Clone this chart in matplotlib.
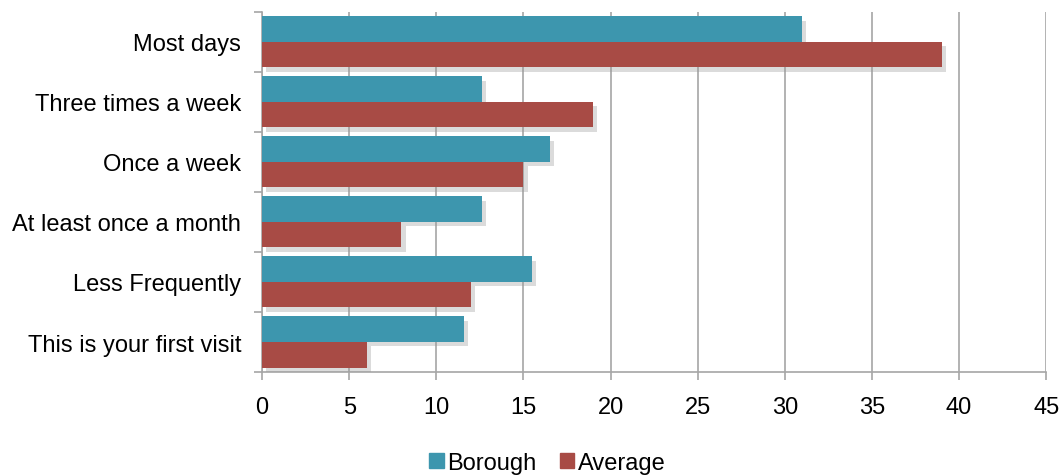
import matplotlib
matplotlib.use("Agg")
import matplotlib.pyplot as plt
import matplotlib.patheffects as pe
from matplotlib.patches import Patch
import numpy as np

plt.rcParams['font.family'] = ['Liberation Sans', 'DejaVu Sans']

categories = ["Most days", "Three times a week", "Once a week",
              "At least once a month", "Less Frequently", "This is your first visit"]
borough = [31.0, 12.6, 16.5, 12.6, 15.5, 11.6]
average = [39.0, 19.0, 15.0, 8.0, 12.0, 6.0]

col_b = "#3D96AE"
col_a = "#A84B45"
grid_col = "#A6A6A6"

fig = plt.figure(figsize=(10.61, 4.77), dpi=100)
ax = fig.add_axes([0.247, 0.218, 0.739, 0.755])

y = np.arange(len(categories))
h = 0.425
shadow = [pe.SimplePatchShadow(offset=(3, -3), shadow_rgbFace="#999999", alpha=0.35), pe.Normal()]
b1 = ax.barh(y - h/2, borough, height=h, color=col_b, zorder=3)
b2 = ax.barh(y + h/2, average, height=h, color=col_a, zorder=3)
for bar in list(b1) + list(b2):
    bar.set_path_effects(shadow)

ax.set_xlim(0, 45)
ax.set_ylim(len(categories) - 0.5, -0.5)
ax.set_xticks(np.arange(0, 46, 5))
ax.set_yticks(y)
ax.set_yticklabels(categories)
ax.set_yticks(np.arange(-0.5, len(categories), 1), minor=True)
ax.tick_params(axis='y', which='major', length=0, pad=15, labelsize=17)
ax.tick_params(axis='y', which='minor', length=6, color=grid_col, width=1.2)
ax.tick_params(axis='x', length=6, color=grid_col, width=1.2, labelsize=17, pad=11)

ax.grid(axis='x', color=grid_col, linewidth=1.2, zorder=0)
ax.set_axisbelow(True)
for s in ['top', 'right']:
    ax.spines[s].set_visible(False)
for s in ['left', 'bottom']:
    ax.spines[s].set_color(grid_col)
    ax.spines[s].set_linewidth(1.2)

handles = [Patch(color=col_b), Patch(color=col_a)]
fig.legend(handles=handles, labels=["Borough", "Average"], loc='lower center',
           bbox_to_anchor=(0.516, -0.04), ncol=2, frameon=False, fontsize=17,
           handlelength=0.6, handleheight=0.6, handletextpad=0.15, columnspacing=1.0)

fig.savefig("out.png", dpi=100)
